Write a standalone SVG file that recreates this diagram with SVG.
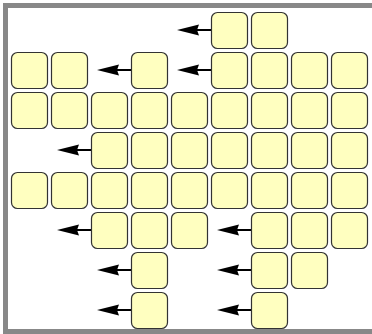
<svg xmlns="http://www.w3.org/2000/svg" width="372" height="334" viewBox="0 0 372 334">
<defs>
<style>
.c{fill:#ffffc0;stroke:#333;stroke-width:1.2}
.l{stroke:#000;stroke-width:2;fill:none}
.h{fill:#000;stroke:none}
</style>
<marker id="ah" markerWidth="22" markerHeight="12" refX="18" refY="6" orient="auto" markerUnits="userSpaceOnUse">
<path d="M22,6 L0,0.5 L2,6 L0,11.5 Z" class="h"/>
</marker>
</defs>
<rect x="0" y="0" width="372" height="334" fill="#fff"/>
<rect x="5.5" y="5.5" width="380" height="326" fill="none" stroke="#888" stroke-width="5"/>
<g id="connectors">
<path class="l" d="M211.5,30 H181" marker-end="url(#ah)"/>
<path class="l" d="M131.5,70 H101" marker-end="url(#ah)"/>
<path class="l" d="M211.5,70 H181" marker-end="url(#ah)"/>
<path class="l" d="M91.5,150 H61" marker-end="url(#ah)"/>
<path class="l" d="M91.5,230 H61" marker-end="url(#ah)"/>
<path class="l" d="M251.5,230 H221" marker-end="url(#ah)"/>
<path class="l" d="M131.5,270 H101" marker-end="url(#ah)"/>
<path class="l" d="M251.5,270 H221" marker-end="url(#ah)"/>
<path class="l" d="M131.5,310 H101" marker-end="url(#ah)"/>
<path class="l" d="M251.5,310 H221" marker-end="url(#ah)"/>
</g>
<g id="r0c5"><rect class="c" x="211.5" y="12.5" width="36" height="36" rx="6"/></g>
<g id="r0c6"><rect class="c" x="251.5" y="12.5" width="36" height="36" rx="6"/></g>
<g id="r1c0"><rect class="c" x="11.5" y="52.5" width="36" height="36" rx="6"/></g>
<g id="r1c1"><rect class="c" x="51.5" y="52.5" width="36" height="36" rx="6"/></g>
<g id="r1c3"><rect class="c" x="131.5" y="52.5" width="36" height="36" rx="6"/></g>
<g id="r1c5"><rect class="c" x="211.5" y="52.5" width="36" height="36" rx="6"/></g>
<g id="r1c6"><rect class="c" x="251.5" y="52.5" width="36" height="36" rx="6"/></g>
<g id="r1c7"><rect class="c" x="291.5" y="52.5" width="36" height="36" rx="6"/></g>
<g id="r1c8"><rect class="c" x="331.5" y="52.5" width="36" height="36" rx="6"/></g>
<g id="r2c0"><rect class="c" x="11.5" y="92.5" width="36" height="36" rx="6"/></g>
<g id="r2c1"><rect class="c" x="51.5" y="92.5" width="36" height="36" rx="6"/></g>
<g id="r2c2"><rect class="c" x="91.5" y="92.5" width="36" height="36" rx="6"/></g>
<g id="r2c3"><rect class="c" x="131.5" y="92.5" width="36" height="36" rx="6"/></g>
<g id="r2c4"><rect class="c" x="171.5" y="92.5" width="36" height="36" rx="6"/></g>
<g id="r2c5"><rect class="c" x="211.5" y="92.5" width="36" height="36" rx="6"/></g>
<g id="r2c6"><rect class="c" x="251.5" y="92.5" width="36" height="36" rx="6"/></g>
<g id="r2c7"><rect class="c" x="291.5" y="92.5" width="36" height="36" rx="6"/></g>
<g id="r2c8"><rect class="c" x="331.5" y="92.5" width="36" height="36" rx="6"/></g>
<g id="r3c2"><rect class="c" x="91.5" y="132.5" width="36" height="36" rx="6"/></g>
<g id="r3c3"><rect class="c" x="131.5" y="132.5" width="36" height="36" rx="6"/></g>
<g id="r3c4"><rect class="c" x="171.5" y="132.5" width="36" height="36" rx="6"/></g>
<g id="r3c5"><rect class="c" x="211.5" y="132.5" width="36" height="36" rx="6"/></g>
<g id="r3c6"><rect class="c" x="251.5" y="132.5" width="36" height="36" rx="6"/></g>
<g id="r3c7"><rect class="c" x="291.5" y="132.5" width="36" height="36" rx="6"/></g>
<g id="r3c8"><rect class="c" x="331.5" y="132.5" width="36" height="36" rx="6"/></g>
<g id="r4c0"><rect class="c" x="11.5" y="172.5" width="36" height="36" rx="6"/></g>
<g id="r4c1"><rect class="c" x="51.5" y="172.5" width="36" height="36" rx="6"/></g>
<g id="r4c2"><rect class="c" x="91.5" y="172.5" width="36" height="36" rx="6"/></g>
<g id="r4c3"><rect class="c" x="131.5" y="172.5" width="36" height="36" rx="6"/></g>
<g id="r4c4"><rect class="c" x="171.5" y="172.5" width="36" height="36" rx="6"/></g>
<g id="r4c5"><rect class="c" x="211.5" y="172.5" width="36" height="36" rx="6"/></g>
<g id="r4c6"><rect class="c" x="251.5" y="172.5" width="36" height="36" rx="6"/></g>
<g id="r4c7"><rect class="c" x="291.5" y="172.5" width="36" height="36" rx="6"/></g>
<g id="r4c8"><rect class="c" x="331.5" y="172.5" width="36" height="36" rx="6"/></g>
<g id="r5c2"><rect class="c" x="91.5" y="212.5" width="36" height="36" rx="6"/></g>
<g id="r5c3"><rect class="c" x="131.5" y="212.5" width="36" height="36" rx="6"/></g>
<g id="r5c4"><rect class="c" x="171.5" y="212.5" width="36" height="36" rx="6"/></g>
<g id="r5c6"><rect class="c" x="251.5" y="212.5" width="36" height="36" rx="6"/></g>
<g id="r5c7"><rect class="c" x="291.5" y="212.5" width="36" height="36" rx="6"/></g>
<g id="r5c8"><rect class="c" x="331.5" y="212.5" width="36" height="36" rx="6"/></g>
<g id="r6c3"><rect class="c" x="131.5" y="252.5" width="36" height="36" rx="6"/></g>
<g id="r6c6"><rect class="c" x="251.5" y="252.5" width="36" height="36" rx="6"/></g>
<g id="r6c7"><rect class="c" x="291.5" y="252.5" width="36" height="36" rx="6"/></g>
<g id="r7c3"><rect class="c" x="131.5" y="292.5" width="36" height="36" rx="6"/></g>
<g id="r7c6"><rect class="c" x="251.5" y="292.5" width="36" height="36" rx="6"/></g>
</svg>
